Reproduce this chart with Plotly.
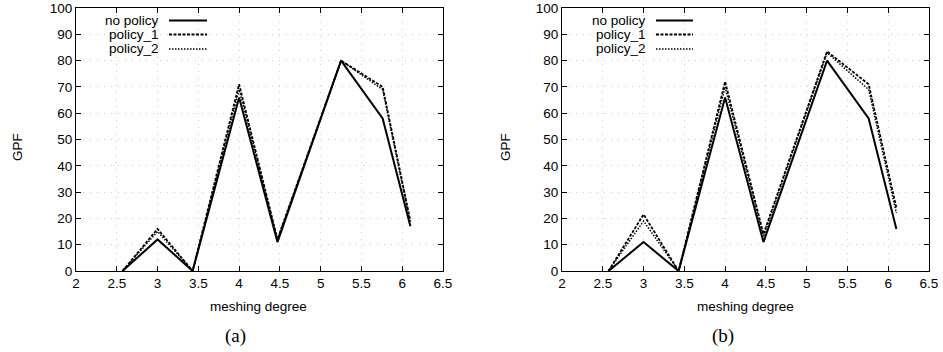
import plotly.graph_objects as go

# ---------------- data ----------------
meshing_degree = [2.57, 3.0, 3.43, 4.0, 4.47, 5.25, 5.76, 6.1]

a_no_policy = [0, 12, 0, 66, 11, 80, 58, 17]
a_policy_1 = [0, 16, 0, 71, 12, 80, 70, 19]
a_policy_2 = [0, 15, 0, 69, 12, 80, 69, 18]

b_no_policy = [0, 11, 0, 66, 11, 80, 58, 16]
b_policy_1 = [0, 21.5, 0, 72, 14, 83.5, 71, 24]
b_policy_2 = [0, 19, 0, 70, 13, 83, 69, 22]

series_names = ["no policy", "policy_1", "policy_2"]
x_ticks = [2, 2.5, 3, 3.5, 4, 4.5, 5, 5.5, 6, 6.5]
y_ticks = [0, 10, 20, 30, 40, 50, 60, 70, 80, 90, 100]
panel_labels = ["(a)", "(b)"]
x_title = "meshing degree"
y_title = "GPF"

# ---------------- styles ----------------
W, H = 943, 352
FONT = "Liberation Sans, Arial, Helvetica, sans-serif"
styles = [
    dict(color="black", width=2.0, dash="solid"),
    dict(color="black", width=1.8, dash="3px,1.5px"),
    dict(color="black", width=1.5, dash="1.5px,1.5px"),
]

fig = go.Figure()

panels = [
    ([a_no_policy, a_policy_1, a_policy_2], "x", "y"),
    ([b_no_policy, b_policy_1, b_policy_2], "x2", "y2"),
]
for series, xa, ya in panels:
    for name, vals, st in reversed(list(zip(series_names, series, styles))):
        fig.add_trace(go.Scatter(
            x=meshing_degree, y=vals, mode="lines", name=name,
            line=st, xaxis=xa, yaxis=ya, showlegend=False,
        ))

x_domains = [[76 / W, 443 / W], [562 / W, 929 / W]]
y_domain = [1 - 271 / H, 1 - 8 / H]

axis_common = dict(
    showline=True, linecolor="black", linewidth=1, mirror="ticks",
    ticks="inside", ticklen=5, tickcolor="black", tickwidth=1,
    showgrid=True, gridcolor="#cfcfcf", griddash="1px,6px", gridwidth=1,
    zeroline=False, automargin=False,
    tickfont=dict(family=FONT, size=13.5, color="black"),
)

for i, xd in enumerate(x_domains):
    sfx = "" if i == 0 else "2"
    fig.layout["xaxis" + sfx] = dict(
        axis_common, domain=xd, range=[2, 6.5], tickvals=x_ticks,
        ticktext=[f"{v:g}" for v in x_ticks], anchor="y" + sfx,
    )
    fig.layout["yaxis" + sfx] = dict(
        axis_common, domain=y_domain, range=[0, 100], tickvals=y_ticks,
        anchor="x" + sfx,
    )

annotations = []
shapes = []

# axis titles
for xc, xl, yl in [(258, 17, 147), (745, 505, 147)]:
    annotations.append(dict(
        x=xc / W, y=1 - 306 / H, xref="paper", yref="paper", text=x_title,
        showarrow=False, xanchor="center", yanchor="middle",
        font=dict(family=FONT, size=13.5, color="black"),
    ))
    annotations.append(dict(
        x=xl / W, y=1 - yl / H, xref="paper", yref="paper", text=y_title,
        showarrow=False, xanchor="center", yanchor="middle", textangle=-90,
        font=dict(family=FONT, size=13.5, color="black"),
    ))

# gnuplot-style legends (text right-aligned, sample to the right)
legend_pos = [(160, 169, 207), (647, 656, 693)]
row_y = [20.5, 34.5, 49]
for (tx, lx0, lx1) in legend_pos:
    for name, st, ry in zip(series_names, styles, row_y):
        annotations.append(dict(
            x=tx / W, y=1 - ry / H, xref="paper", yref="paper",
            text=name, showarrow=False, xanchor="right", yanchor="middle",
            borderpad=0,
            font=dict(family=FONT, size=13.5, color="black"),
        ))
        shapes.append(dict(
            type="line", xref="paper", yref="paper",
            x0=lx0 / W, x1=lx1 / W, y0=1 - ry / H, y1=1 - ry / H,
            line=st,
        ))

for lbl, cx in zip(panel_labels, [235, 723]):
    annotations.append(dict(
        x=cx / W, y=1 - 336 / H, xref="paper", yref="paper",
        text=lbl, showarrow=False, xanchor="center", yanchor="middle",
        font=dict(family="Liberation Serif, Times New Roman, serif", size=19, color="black"),
    ))

fig.update_layout(
    width=W, height=H,
    margin=dict(l=0, r=0, t=0, b=0),
    paper_bgcolor="white", plot_bgcolor="white",
    annotations=annotations, shapes=shapes,
    showlegend=False,
)

fig.write_html(
    "out.html",
    config={"displayModeBar": False},
    post_script="document.body.style.margin='0';document.body.style.overflow='hidden';",
)
